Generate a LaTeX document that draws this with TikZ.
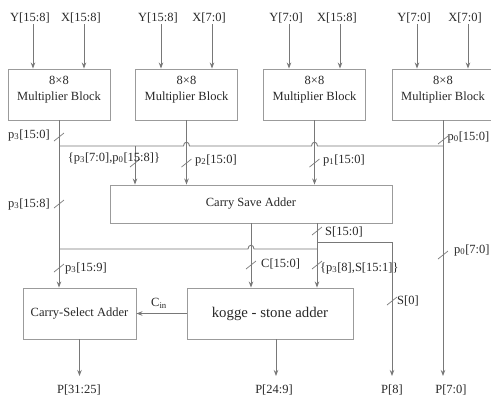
\documentclass[tikz,border=0pt]{standalone}
\usepackage{fontspec}
\setmainfont{Liberation Serif}
\usetikzlibrary{arrows.meta,calc,positioning}
\definecolor{wireclr}{RGB}{120,120,120}
\definecolor{boxclr}{RGB}{155,155,155}
\definecolor{txtclr}{RGB}{40,40,40}
\newcommand{\sbs}[1]{\textsubscript{#1}}
\tikzset{
  % lines
  wire/.style   = {draw=wireclr, line width=0.9pt},
  arr/.style    = {wire, -{Stealth[length=6pt,width=4.5pt]}},
  busmk/.style  = {draw=wireclr, line width=0.7pt},
  % boxes
  blk/.style    = {draw=boxclr, line width=0.9pt, inner sep=0pt},
  % text
  lab/.style    = {font=\fontsize{12.5}{16}\selectfont, text=txtclr, inner sep=1pt},
  biglab/.style = {font=\fontsize{14.8}{16}\selectfont, text=txtclr, inner sep=1pt},
}
% bus slash
\newcommand{\busmark}[1]{\draw[busmk] ($(#1)+(-5,4)$) -- ($(#1)+(5,-4)$);}

\begin{document}
\begin{tikzpicture}[x=1pt,y=-1pt]
  \useasboundingbox (0,0) rectangle (491,400);
  % helper rows
  \coordinate (hbus) at (0,146);
  \coordinate (p3row) at (0,249);
  \coordinate (srow) at (0,242);
  \coordinate (outy) at (0,376);
  \coordinate (cat) at (135,146);
  \coordinate (sx) at (317,0);
  \coordinate (kx) at (276,0);
  % multiplier blocks and inputs
  \foreach \n/\cx/\xa/\xb/\ta/\tb in {3/59/33/84/{Y[15:8]}/{X[15:8]},
      2/186.5/161/212/{Y[15:8]}/{X[7:0]},
      1/314.5/289/340/{Y[7:0]}/{X[15:8]},
      0/443/417/468/{Y[7:0]}/{X[7:0]}} {
    \node[blk, minimum width=102pt, minimum height=51pt] (m\n) at (\cx,94.5) {};
    \node[lab, align=center, anchor=north] (t\n) at ($(m\n.north)+(0,6.5)$) {8×8\\Multiplier Block};
    \node[lab] (ya\n) at (\xa-3,18) {\ta};
    \node[lab] (xb\n) at (\xb-3,18) {\tb};
    \draw[arr] ([xshift=3pt]ya\n.south) -- ([xshift=3pt]ya\n.south |- m\n.north);
    \draw[arr] ([xshift=3pt]xb\n.south) -- ([xshift=3pt]xb\n.south |- m\n.north);
  }
  % adders
  \node[blk, lab, minimum width=282pt, minimum height=38pt] (csa) at (251,204) {Carry Save Adder};
  \node[blk, biglab, minimum width=166pt, minimum height=51pt] (ksa) at (270,313.5) {kogge - stone adder};
  \node[blk, lab, minimum width=113pt, minimum height=51pt] (csel) at (79.5,313.5) {Carry-Select Adder};
  % outputs
  \node[lab] (o3) at (79,390) {P[31:25]};
  \node[lab] (o2) at (274,390) {P[24:9]};
  \node[lab] (o1) at (392,390) {P[8]};
  \node[lab] (o0) at (451,390) {P[7:0]};
  % partial products
  \draw[arr] (m3.south) -- (m3.south |- csel.north);
  \draw[arr] (m0.south) -- (m0.south |- outy);
  \draw[wire] (m0.south |- hbus) -- (317.5,146) .. controls (317.5,141) and (311.5,141) .. (311.5,146)
    -- (189.5,146) .. controls (189.5,141) and (183.5,141) .. (183.5,146) -- (m3.south |- hbus);
  \draw[arr] (cat) -- (cat |- csa.north);
  \draw[arr] (m2.south) -- (m2.south |- csa.north);
  \draw[arr] (m1.south) -- (m1.south |- csa.north);
  % carry save outputs
  \draw[arr] (csa.south) -- (csa.south |- ksa.north);
  \draw[arr] (sx |- csa.south) -- (sx |- ksa.north);
  \draw[arr] (sx |- srow) -- (o1.north |- srow) -- (o1.north |- outy);
  \draw[wire] (m3.south |- p3row) -- (248,249) .. controls (248,244) and (254,244) .. (254,249) -- (sx |- p3row);
  % final adders
  \draw[arr] (ksa.west) -- (csel.east);
  \node[lab] (cin) at (159,303) {C\sbs{in}};
  \draw[arr] (csel.south) -- (csel.south |- outy);
  \draw[arr] (kx |- ksa.south) -- (kx |- outy);
  % bus labels
  \busmark{59,137}
  \node[lab, anchor=east] (l1) at (51,135) {p\sbs{3}[15:0]};
  \busmark{59,204}
  \node[lab, anchor=east] (l2) at (51,204) {p\sbs{3}[15:8]};
  \busmark{135,163}
  \node[lab] (l3) at (114,158) {\{p\sbs{3}[7:0],p\sbs{0}[15:8]\}};
  \busmark{186.5,163}
  \node[lab, anchor=west] (l4) at (194,160) {p\sbs{2}[15:0]};
  \busmark{314.5,163}
  \node[lab, anchor=west] (l5) at (322,160) {p\sbs{1}[15:0]};
  \busmark{443,140}
  \node[lab, anchor=east] (l6) at (490.5,137) {p\sbs{0}[15:0]};
  \busmark{317,231}
  \node[lab, anchor=west] (l7) at (324,232) {S[15:0]};
  \busmark{443,255}
  \node[lab, anchor=west] (l8) at (453,250) {p\sbs{0}[7:0]};
  \busmark{251,265}
  \node[lab, anchor=west] (l9) at (260,264) {C[15:0]};
  \busmark{317,265}
  \node[lab, anchor=west] (l10) at (319,268) {\{p\sbs{3}[8],S[15:1]\}};
  \busmark{392,301}
  \node[lab, anchor=west] (l11) at (396,301) {S[0]};
  \busmark{59,268}
  \node[lab, anchor=west] (l12) at (64,268) {p\sbs{3}[15:9]};
\end{tikzpicture}
\end{document}
